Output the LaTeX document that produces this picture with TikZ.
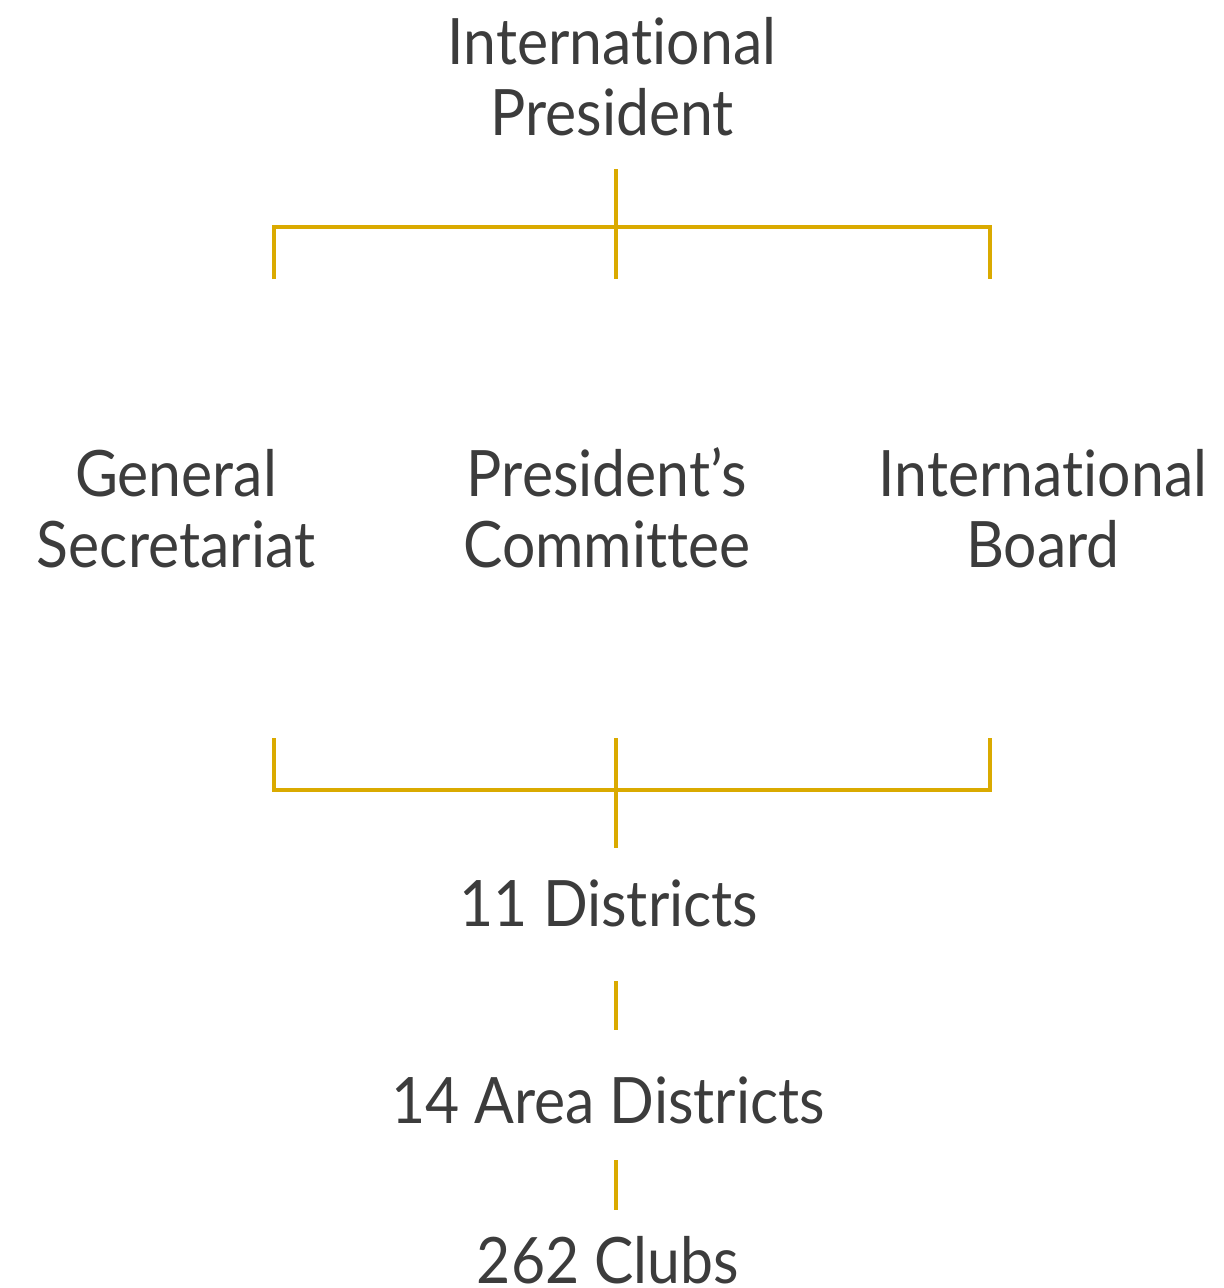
\documentclass[tikz,border=0pt]{standalone}
\usepackage{fontspec}
\setmainfont{Lato}[Ligatures={NoCommon,NoRare},FakeStretch=0.92]
\definecolor{txt}{HTML}{3C3C3C}
\definecolor{gold}{HTML}{DAAA00}
\begin{document}
\begin{tikzpicture}[x=1bp,y=-1bp,
  lbl/.style={anchor=base,align=center,inner sep=0pt,text=txt,
    font=\fontsize{64bp}{71bp}\selectfont},
  conn/.style={draw=gold,line width=4bp}]
\useasboundingbox (0,0) rectangle (1224,1288);
\node[lbl] (ip) at (612,135) {International\\President};
\node[lbl] (gs) at (176,567) {General\\Secretariat};
\node[lbl] (pc) at (607,567) {President’s\\Committee};
\node[lbl] (ib) at (1043,567) {International\\Board};
\node[lbl] (d11) at (609,926) {11 Districts};
\node[lbl] (d14) at (608,1123) {14 Area Districts};
\node[lbl] (clubs) at (608,1283) {262 Clubs};
% connector points
\coordinate (t0) at (616,169);
\coordinate (tc) at (616,227);
\coordinate (tl) at (274,279);
\coordinate (tm) at (616,279);
\coordinate (tr) at (990,279);
\coordinate (bl) at (274,738);
\coordinate (bm) at (616,738);
\coordinate (br) at (990,738);
\coordinate (bc) at (616,790);
\coordinate (b1) at (616,848);
\coordinate (s1a) at (616,981);
\coordinate (s1b) at (616,1030);
\coordinate (s2a) at (616,1160);
\coordinate (s2b) at (616,1210);
\draw[conn] (t0) -- (tm);
\draw[conn] (tl) |- (tc) -| (tr);
\draw[conn] (bl) |- (bc) -| (br);
\draw[conn] (bm) -- (b1);
\draw[conn] (s1a) -- (s1b);
\draw[conn] (s2a) -- (s2b);
\end{tikzpicture}
\end{document}
